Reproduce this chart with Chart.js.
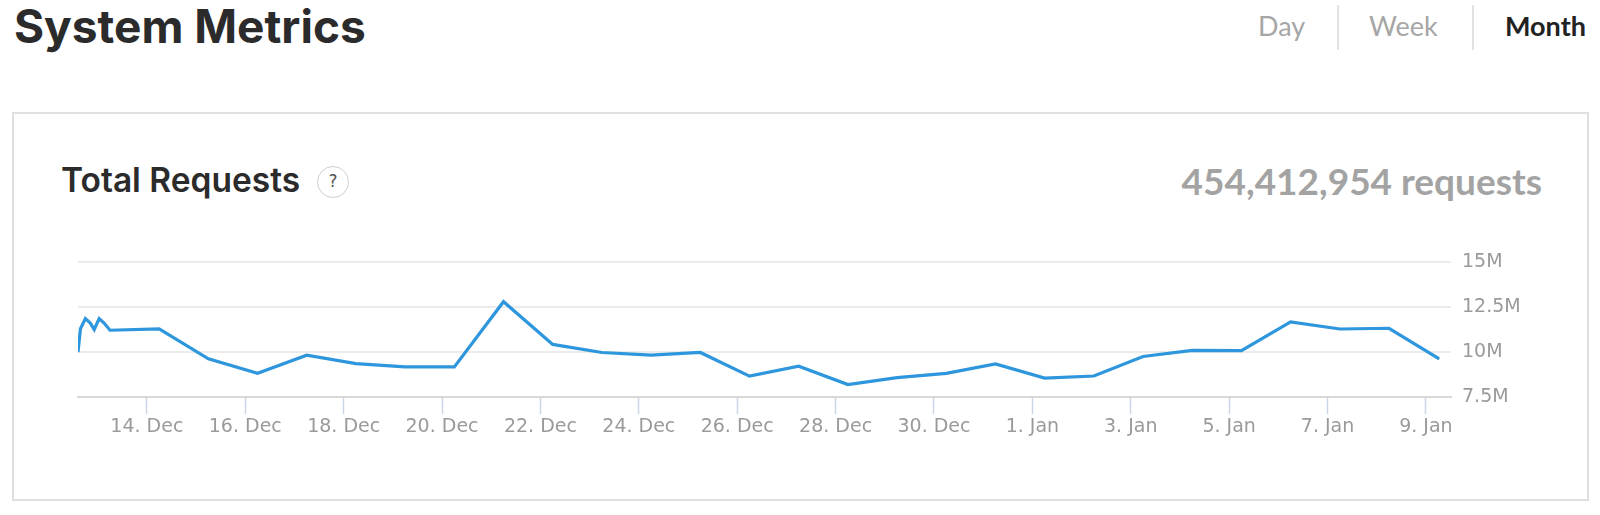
<!DOCTYPE html>
<html>
<head>
<meta charset="utf-8">
<script src="https://cdn.jsdelivr.net/npm/chart.js@4/dist/chart.umd.min.js"></script>
<style>
  body { margin: 0; background: #fff; width: 1600px; height: 515px; overflow: hidden; position: relative; font-family: Lato, "Open Sans", sans-serif; }
  .abs { position: absolute; white-space: nowrap; }
  #title { left: 14px; top: 3px; font-family: Inter, Lato, sans-serif; font-size: 46px; font-weight: 700; color: #2b2b2b; line-height: 46px; }
  .tab { top: 10px; font-size: 27px; line-height: 32px; color: #a6a6a6; }
  .sep { top: 5px; width: 2px; height: 45px; background: #e2e2e2; }
  #card { left: 12px; top: 112px; width: 1573px; height: 385px; border: 2px solid #e0e0e0; }
  #sub { left: 61px; top: 164px; font-family: Inter, Lato, sans-serif; font-size: 33.5px; font-weight: 600; color: #2b2b2b; line-height: 33.5px; }
  #help { left: 317px; top: 166px; width: 32px; height: 32px; box-sizing: border-box; border: 1.5px solid #d0d0d0; border-radius: 50%; font-size: 17px; color: #555; text-align: center; line-height: 29px; font-family: "DejaVu Sans", sans-serif; }
  #total { right: 58px; top: 159px; font-size: 37px; font-weight: bold; color: #a3a3a3; line-height: 44px; }
  #wrap { left: 68px; top: 240px; width: 1512px; height: 200px; }
</style>
</head>
<body>
<div id="title" class="abs">System Metrics</div>
<div class="abs tab" style="left:1258px">Day</div>
<div class="abs sep" style="left:1337px"></div>
<div class="abs tab" style="left:1369px">Week</div>
<div class="abs sep" style="left:1472px"></div>
<div class="abs tab" style="left:1505px;color:#222;font-weight:bold">Month</div>
<div id="card" class="abs"></div>
<div id="sub" class="abs">Total Requests</div>
<div id="help" class="abs">?</div>
<div id="total" class="abs">454,412,954 requests</div>
<div id="wrap" class="abs"><canvas id="mychart"></canvas></div>
<script>
// days counted from 1 Dec (32 = 1 Jan)
const pointDays = [12.6, 12.65, 12.75, 12.85, 12.93, 13.03, 13.13, 13.25,
    14.25, 15.25, 16.25, 17.25, 18.25, 19.25, 20.25, 21.25, 22.25, 23.25,
    24.25, 25.25, 26.25, 27.25, 28.25, 29.25, 30.25, 31.25, 32.25, 33.25,
    34.25, 35.25, 36.25, 37.25, 38.25, 39.25, 40.27];
// requests, millions
const requestsM = [10.0, 11.3, 11.87, 11.62, 11.26, 11.87, 11.62, 11.22,
    11.29, 9.63, 8.82, 9.83, 9.36, 9.18, 9.18, 12.81, 10.43, 9.98,
    9.83, 9.98, 8.66, 9.22, 8.19, 8.58, 8.82, 9.34, 8.55, 8.67,
    9.76, 10.10, 10.08, 11.69, 11.29, 11.33, 9.63];

const xTickValues = [14, 16, 18, 20, 22, 24, 26, 28, 30, 32, 34, 36, 38, 40];
const xTickLabels = ['14. Dec', '16. Dec', '18. Dec', '20. Dec', '22. Dec', '24. Dec', '26. Dec',
    '28. Dec', '30. Dec', '1. Jan', '3. Jan', '5. Jan', '7. Jan', '9. Jan'];
const yTickValues = [7.5, 10, 12.5, 15];
const yTickLabels = ['7.5M', '10M', '12.5M', '15M'];

const points = pointDays.map((d, i) => ({x: d, y: requestsM[i]}));

const ctx = document.getElementById('mychart').getContext('2d');
new Chart(ctx, {
    type: 'line',
    data: {
        datasets: [{
            label: 'Total Requests',
            data: points,
            borderColor: '#2d96dc',
            borderWidth: 3.2,
            pointRadius: 0,
            tension: 0,
            fill: false
        }]
    },
    options: {
        responsive: true,
        maintainAspectRatio: false,
        animation: false,
        layout: { padding: { left: 10, top: 18, right: 0, bottom: 0 } },
        plugins: { legend: { display: false }, tooltip: { enabled: false } },
        scales: {
            x: {
                type: 'linear',
                min: 12.6,
                max: 40.51,
                afterBuildTicks: s => { s.ticks = xTickValues.map(v => ({value: v})); },
                afterFit: s => { s.height = 43; },
                ticks: {
                    autoSkip: false,
                    maxRotation: 0,
                    padding: 2,
                    color: '#9a9a9a',
                    font: { family: 'DejaVu Sans', size: 19 },
                    callback: v => xTickLabels[xTickValues.indexOf(v)]
                },
                grid: { drawOnChartArea: false, drawTicks: true, tickLength: 17, tickColor: '#ccd6eb', tickWidth: 1.5 },
                border: { color: '#d8d8d8', width: 2 }
            },
            y: {
                position: 'right',
                min: 7.5,
                max: 15,
                afterBuildTicks: s => { s.ticks = yTickValues.map(v => ({value: v})); },
                afterFit: s => { s.width = 129; },
                ticks: {
                    padding: 11,
                    color: '#9a9a9a',
                    font: { family: 'DejaVu Sans', size: 19 },
                    callback: v => yTickLabels[yTickValues.indexOf(v)]
                },
                grid: { color: '#ebebeb', lineWidth: 2, drawTicks: false },
                border: { display: false }
            }
        }
    }
});
</script>
</body>
</html>
